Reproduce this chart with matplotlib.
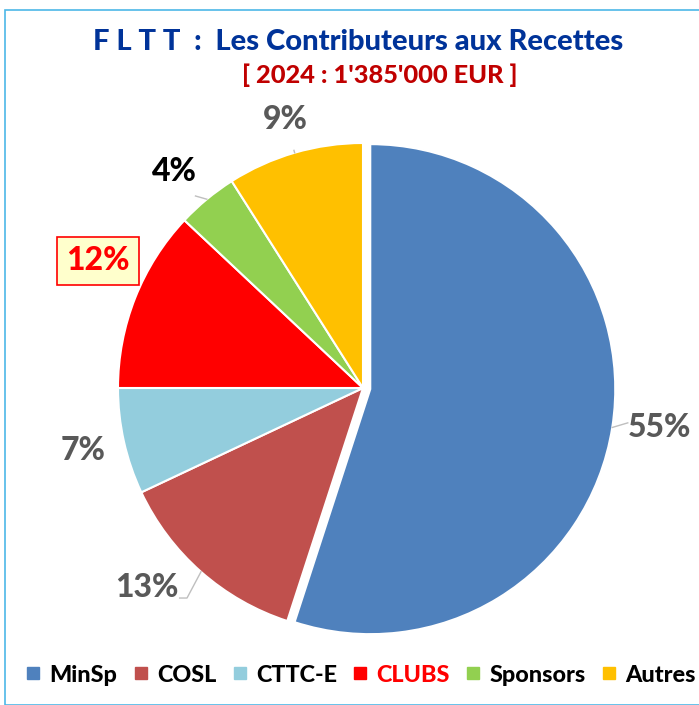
import numpy as np
import matplotlib.pyplot as plt
from matplotlib.lines import Line2D
from matplotlib.patches import Rectangle

plt.rcParams['font.family'] = ['Lato', 'DejaVu Sans']

# Data
categories = ["MinSp", "COSL", "CTTC-E", "CLUBS", "Sponsors", "Autres"]
shares = [55, 13, 7, 12, 4, 9]
colors = ["#4F81BD", "#C0504D", "#93CDDD", "#FF0000", "#92D050", "#FFC000"]
explode = [0.03, 0, 0, 0, 0, 0]

# label styling
label_dist = [1.22, 1.20, 1.17, 1.20, 1.17, 1.14]
label_shift = [1.5, -6, 0, -4, 1.5, 0]
label_colors = ["#595959", "#595959", "#595959", "#FF0000", "#000000", "#595959"]
leader = [True, True, False, False, True, True]

W, H = 699, 705
fig = plt.figure(figsize=(W / 100, H / 100), dpi=100)

# frame
fig.patches.append(Rectangle((5 / W, 0), 1, 1 - 10 / H, transform=fig.transFigure,
                             fill=False, edgecolor="#4DB8E8", linewidth=1.2))

cx, cy, r = 363, 388, 245
ax = fig.add_axes([(cx - r) / W, (H - cy - r) / H, 2 * r / W, 2 * r / H])

wedges, _ = ax.pie(
    shares,
    colors=colors,
    explode=explode,
    startangle=90,
    counterclock=False,
    wedgeprops=dict(edgecolor="white", linewidth=1.5),
)
ax.set_xlim(-1, 1)
ax.set_ylim(-1, 1)
ax.set_aspect("equal")
ax.axis("off")

for i, w in enumerate(wedges):
    mid = np.deg2rad((w.theta1 + w.theta2) / 2)
    ang = mid + np.deg2rad(label_shift[i])
    d = label_dist[i]
    tx, ty = d * np.cos(ang), d * np.sin(ang)
    bbox = None
    if categories[i] == "CLUBS":
        bbox = dict(boxstyle="square,pad=0.3", facecolor="#FFFFCC",
                    edgecolor="#FF0000", linewidth=1.2)
    ax.text(tx, ty, f"{shares[i]}%", ha="center", va="center",
            fontsize=23, fontweight="black", color=label_colors[i],
            bbox=bbox, clip_on=False)
    if leader[i]:
        ex = explode[i]
        x0 = (1.0 + ex) * np.cos(mid)
        y0 = (1.0 + ex) * np.sin(mid)
        if categories[i] == "COSL":
            xs = [x0, tx + 0.165, tx + 0.135]
            ys = [y0, ty - 0.045, ty - 0.045]
        else:
            xs = [x0, (d - 0.13) * np.cos(ang)]
            ys = [y0, (d - 0.13) * np.sin(ang)]
        ax.plot(xs, ys, color="#BFBFBF", linewidth=1, clip_on=False)

# titles
fig.text(358 / W, 1 - 42 / H, "F L T T  :  Les Contributeurs aux Recettes",
         ha="center", va="center", fontsize=21, fontweight="black", color="#003399")
fig.text(380 / W, 1 - 75 / H, "[ 2024 : 1'385'000 EUR ]",
         ha="center", va="center", fontsize=18.3, fontweight="black", color="#C00000")

# legend
handles = [Line2D([], [], marker="s", linestyle="none", markersize=9,
                  markerfacecolor=c, markeredgecolor=c) for c in colors]
leg = fig.legend(handles, categories, loc="center", bbox_to_anchor=(361 / W, 1 - 675 / H),
                 ncol=6, frameon=False, handlelength=0.6, handletextpad=0.4,
                 columnspacing=0.7, prop=dict(size=16.8, weight="black"))
for t in leg.get_texts():
    if t.get_text() == "CLUBS":
        t.set_color("#FF0000")

fig.savefig("out.png", dpi=100)
